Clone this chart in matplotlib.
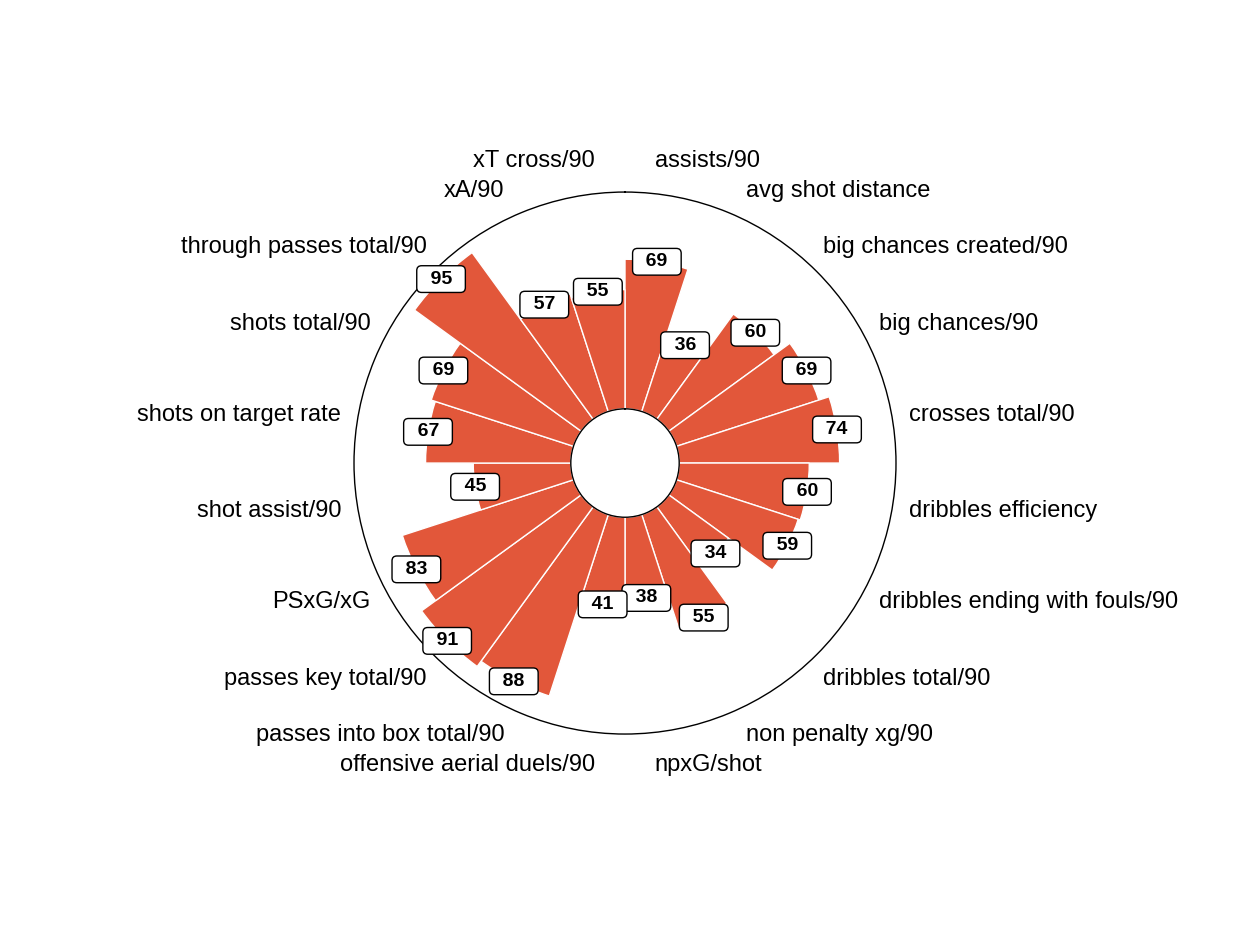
import numpy as np
import matplotlib.pyplot as plt

plt.rcParams['font.family'] = ['Liberation Sans', 'DejaVu Sans']

# parameters, clockwise from the top
params = [
    'assists/90', 'avg shot distance', 'big chances created/90', 'big chances/90',
    'crosses total/90', 'dribbles efficiency', 'dribbles ending with fouls/90',
    'dribbles total/90', 'non penalty xg/90', 'npxG/shot', 'offensive aerial duels/90',
    'passes into box total/90', 'passes key total/90', 'PSxG/xG', 'shot assist/90',
    'shots on target rate', 'shots total/90', 'through passes total/90', 'xA/90',
    'xT cross/90',
]
values = [69, 36, 60, 69, 74, 60, 59, 34, 55, 38, 41, 88, 91, 83, 45, 67, 69, 95, 57, 55]

bar_color = '#E2573A'

n = len(params)
width = 2 * np.pi / n
theta = np.arange(n) * width + width / 2

fig = plt.figure(figsize=(12.5, 9.26), dpi=100)
ax = fig.add_axes([0.2832, 0.2073, 0.4336, 0.5853], projection='polar')
ax.set_theta_offset(np.pi / 2)
ax.set_theta_direction(-1)
ax.set_ylim(0, 100)
ax.set_rorigin(-25)

ax.bar(theta, values, width=width, bottom=0, color=bar_color,
       edgecolor='white', linewidth=1, zorder=2)

ax.set_xticks([])
ax.set_yticks([])
ax.grid(False)
ax.spines['start'].set_visible(False)
ax.spines['end'].set_visible(False)
for name in ('polar', 'inner'):
    ax.spines[name].set_color('black')
    ax.spines[name].set_linewidth(1)

# value boxes at the end of each bar
pad_sp = ' \u2006'
for t, v in zip(theta, values):
    ax.text(t, v, f'{pad_sp}{v}{pad_sp[::-1]}', ha='center', va='center',
            fontsize=14, fontweight='bold', zorder=4,
            bbox=dict(boxstyle='round,pad=0.25', facecolor='white',
                      edgecolor='black', linewidth=1))

# parameter labels round the outside
for t, lab in zip(theta, params):
    if np.sin(t) > 0:
        ha, dx = 'left', -13
    else:
        ha, dx = 'right', 13
    ax.annotate(lab, xy=(t, 116), xytext=(dx, 0), textcoords='offset points',
                ha=ha, va='center', fontsize=17, annotation_clip=False)

fig.savefig('out.png', dpi=100)
